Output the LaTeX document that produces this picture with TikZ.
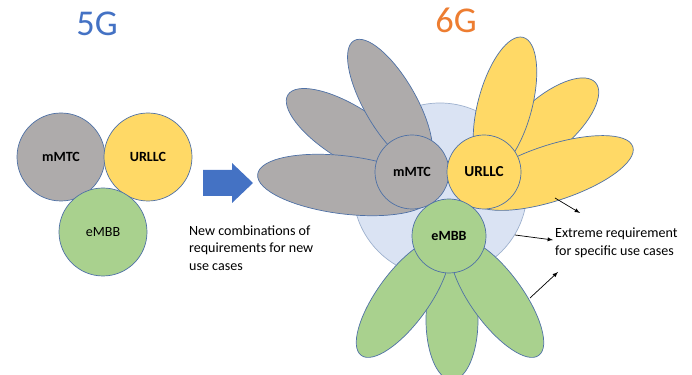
\documentclass[tikz,border=0pt]{standalone}
\usepackage{fontspec}
\setmainfont{Carlito}
\usepackage{tikz}

\definecolor{edgeblue}{HTML}{4F71A6}
\definecolor{mmtcgray}{HTML}{AEABAB}
\definecolor{urllcyellow}{HTML}{FFD966}
\definecolor{embbgreen}{HTML}{A9D18E}
\definecolor{coreblue}{HTML}{DAE3F3}
\definecolor{arrowblue}{HTML}{4472C4}
\definecolor{titleorange}{HTML}{ED7D31}

\tikzset{
  petal/.style={draw=edgeblue, line width=0.6pt},
  usecase/.style={circle, draw=edgeblue, line width=0.6pt, inner sep=0pt,
                  font=\fontsize{12}{14}\selectfont\bfseries},
  note/.style={anchor=west, align=left, font=\fontsize{12}{15}\selectfont},
}

\begin{document}
\begin{tikzpicture}[x=0.03cm, y=0.03cm]
  \clip (0, 0) rectangle (692, 375);

  % 5G
  \node[text=arrowblue, font=\fontsize{31}{31}\selectfont] (title5) at (97, 351) {5G};
  \node[usecase, fill=mmtcgray, minimum size=2.64cm] (m5) at (61, 218) {mMTC};
  \node[usecase, fill=urllcyellow, minimum size=2.64cm] (u5) at (148, 218) {URLLC};
  \node[usecase, fill=embbgreen, minimum size=2.64cm, font=\fontsize{12}{14}\selectfont] (e5) at (103, 143) {eMBB};

  \fill[arrowblue] (203, 179) -- (232, 179) -- (232, 172) -- (253, 192)
        -- (232, 212) -- (232, 205) -- (203, 205) -- cycle;
  \node[note] (combos) at (185, 127) {New combinations of\\requirements for new\\use cases};

  % 6G
  \node[text=titleorange, font=\fontsize{31}{31}\selectfont] (title6) at (456, 355) {6G};
  \filldraw[draw=edgeblue!55, line width=0.6pt, fill=coreblue] (440, 185) circle (87);

  \filldraw[petal, fill=mmtcgray, rotate around={-32:(349, 242)}] (349, 242) ellipse (72 and 27);
  \filldraw[petal, fill=mmtcgray, rotate around={-60:(390, 272)}] (390, 272) ellipse (72 and 26);
  \filldraw[petal, fill=mmtcgray, rotate around={-7:(345, 190)}] (345, 190) ellipse (88 and 29);

  \filldraw[petal, fill=urllcyellow, rotate around={41:(548, 251)}] (548, 251) ellipse (63 and 27);
  \filldraw[petal, fill=urllcyellow, rotate around={75:(505, 270)}] (505, 270) ellipse (70 and 27);
  \filldraw[petal, fill=urllcyellow, rotate around={18:(552, 202)}] (552, 202) ellipse (85 and 28);

  \filldraw[petal, fill=embbgreen] (452, 55) ellipse (26 and 60);
  \filldraw[petal, fill=embbgreen, rotate around={54:(403, 77)}] (403, 77) ellipse (71 and 26);
  \filldraw[petal, fill=embbgreen, rotate around={-54:(497, 77)}] (497, 77) ellipse (71 and 26);

  \node[usecase, fill=mmtcgray, minimum size=2.22cm] (m6) at (412, 203) {mMTC};
  \node[usecase, fill=urllcyellow, minimum size=2.22cm, font=\fontsize{13}{15}\selectfont\bfseries] (u6) at (484, 203) {URLLC};
  \node[usecase, fill=embbgreen, minimum size=2.22cm] (e6) at (449, 139) {eMBB};

  \node[note] (extreme) at (551, 132) {Extreme requirement\\for specific use cases};

  \coordinate (p1) at (555, 177);
  \coordinate (q1) at (580, 162);
  \coordinate (p2) at (515, 140);
  \coordinate (q2) at (553, 135);
  \coordinate (p3) at (530, 77);
  \coordinate (q3) at (558, 103);
  \draw[-latex, line width=0.6pt] (p1) -- (q1);
  \draw[-latex, line width=0.6pt] (p2) -- (q2);
  \draw[-latex, line width=0.6pt] (p3) -- (q3);
\end{tikzpicture}
\end{document}
